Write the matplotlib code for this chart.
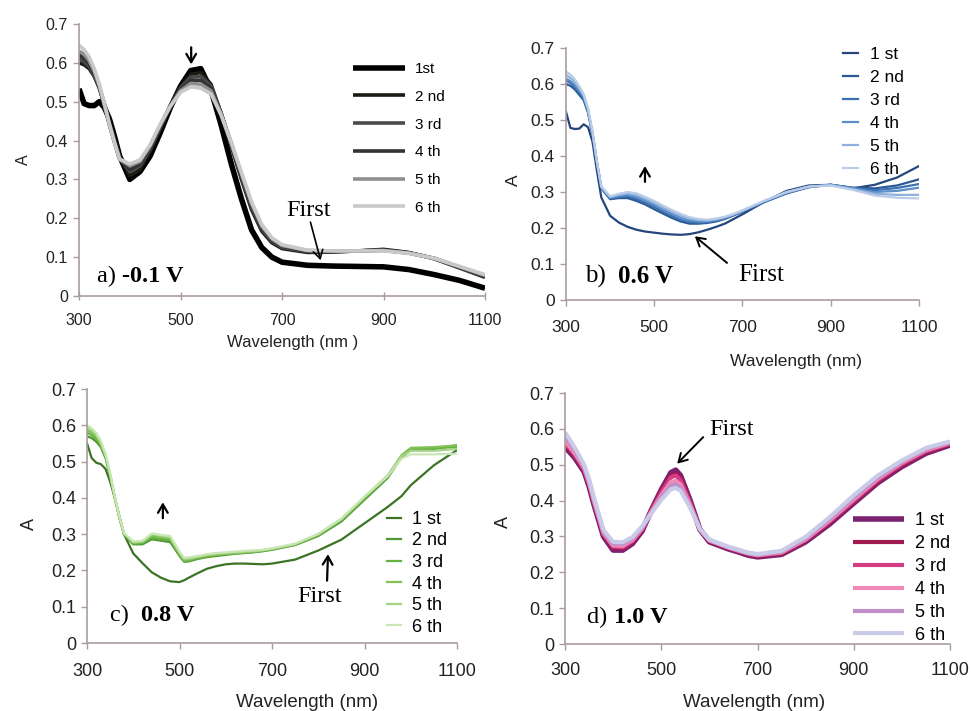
import matplotlib
matplotlib.use("Agg")
import matplotlib.pyplot as plt

# ---------------- data ----------------
wl_a = [300, 310, 320, 330, 340, 350, 360, 370, 380, 400, 420, 440, 460, 480, 500, 520, 540,
        560, 580, 600, 620, 640, 660, 680, 700, 750, 800, 850, 900, 950, 1000, 1050, 1100]
a_1st = [.533, .495, .490, .490, .500, .485, .455, .410, .360, .300, .320, .360, .420, .485, .540, .580, .585,
         .530, .440, .340, .250, .170, .125, .100, .087, .079, .077, .076, .075, .068, .055, .040, .020]
a_2nd = [.600, .595, .585, .565, .535, .495, .450, .405, .360, .310, .325, .372, .430, .488, .538, .570, .575,
         .545, .470, .385, .300, .222, .167, .137, .122, .112, .113, .116, .120, .112, .096, .072, .048]
a_3rd = [.610, .603, .590, .567, .535, .490, .442, .398, .356, .320, .335, .378, .434, .489, .535, .563, .565,
         .540, .470, .388, .305, .228, .172, .141, .125, .114, .114, .116, .118, .111, .096, .073, .050]
a_4th = [.620, .612, .597, .572, .537, .490, .440, .395, .353, .325, .340, .382, .437, .490, .532, .555, .555,
         .535, .470, .392, .310, .233, .176, .144, .128, .116, .115, .116, .118, .111, .097, .074, .052]
a_5th = [.630, .622, .605, .578, .540, .492, .440, .394, .352, .335, .346, .386, .440, .489, .528, .547, .545,
         .528, .468, .394, .315, .238, .180, .147, .130, .117, .116, .116, .117, .110, .097, .075, .053]
a_6th = [.645, .634, .615, .585, .545, .495, .442, .395, .352, .340, .350, .389, .442, .488, .524, .538, .535,
         .520, .465, .395, .318, .242, .184, .150, .132, .118, .116, .116, .116, .110, .097, .076, .055]

wl_b = [300, 310, 320, 330, 340, 350, 360, 370, 380, 400, 420, 440, 460, 480, 500, 520, 540,
        560, 580, 600, 620, 640, 660, 680, 700, 750, 800, 850, 900, 950, 1000, 1050, 1100]
b_1st = [.523, .478, .475, .476, .488, .480, .440, .360, .285, .234, .215, .203, .195, .190, .187, .184, .182,
         .181, .183, .188, .195, .203, .212, .225, .238, .273, .303, .318, .320, .310, .320, .340, .372]
b_2nd = [.600, .595, .585, .570, .555, .520, .460, .380, .310, .280, .283, .283, .275, .265, .252, .240, .228,
         .218, .212, .212, .214, .218, .225, .235, .245, .272, .296, .313, .320, .312, .310, .318, .335]
b_3rd = [.610, .603, .592, .577, .560, .523, .462, .382, .312, .282, .286, .287, .280, .270, .258, .245, .233,
         .222, .216, .215, .216, .220, .227, .236, .246, .273, .297, .314, .320, .311, .305, .311, .322]
b_4th = [.615, .608, .597, .582, .564, .526, .464, .383, .313, .284, .289, .292, .286, .276, .264, .251, .239,
         .228, .221, .218, .218, .222, .228, .237, .247, .274, .298, .314, .320, .310, .300, .303, .312]
b_5th = [.625, .617, .605, .588, .568, .529, .466, .384, .314, .286, .292, .296, .291, .281, .270, .257, .245,
         .234, .226, .222, .221, .224, .230, .238, .248, .275, .299, .315, .319, .308, .295, .292, .292]
b_6th = [.635, .626, .613, .594, .572, .532, .468, .385, .315, .288, .295, .300, .296, .286, .275, .262, .250,
         .239, .230, .225, .223, .226, .231, .239, .249, .276, .300, .315, .318, .306, .290, .284, .282]

wl_c = [300, 310, 320, 330, 340, 350, 360, 370, 380, 400, 420, 440, 460, 480, 500, 510, 520, 540,
        560, 580, 600, 620, 640, 660, 680, 700, 750, 800, 850, 900, 950, 980, 1000, 1050, 1100]
c_1st = [.551, .510, .497, .493, .480, .445, .400, .350, .300, .247, .220, .195, .180, .170, .168, .173, .180, .193,
         .205, .212, .217, .219, .219, .218, .217, .219, .230, .255, .285, .330, .375, .405, .435, .490, .532]
c_2nd = [.570, .565, .555, .540, .510, .460, .400, .345, .300, .272, .272, .286, .282, .278, .240, .224, .225, .232,
         .237, .240, .243, .246, .248, .250, .253, .257, .270, .295, .335, .395, .455, .512, .532, .535, .545]
c_3rd = [.580, .573, .562, .545, .513, .462, .401, .346, .300, .274, .275, .291, .287, .283, .243, .226, .227, .234,
         .239, .242, .245, .247, .249, .251, .254, .258, .271, .297, .338, .398, .458, .515, .535, .537, .540]
c_4th = [.588, .580, .568, .549, .516, .464, .402, .347, .301, .276, .278, .296, .292, .288, .246, .229, .230, .236,
         .241, .244, .246, .248, .250, .252, .255, .259, .272, .299, .340, .401, .461, .518, .538, .540, .545]
c_5th = [.595, .587, .574, .553, .519, .466, .403, .348, .302, .278, .280, .300, .296, .292, .249, .232, .233, .238,
         .243, .246, .248, .250, .252, .254, .256, .260, .273, .300, .342, .403, .462, .515, .530, .530, .535]
c_6th = [.600, .592, .579, .557, .522, .468, .404, .349, .303, .280, .282, .302, .298, .295, .252, .235, .236, .240,
         .245, .248, .250, .252, .254, .255, .257, .261, .274, .301, .343, .404, .460, .508, .520, .520, .522]

wl_d = [300, 310, 320, 330, 340, 350, 360, 370, 380, 400, 420, 440, 460, 480, 500, 520, 530, 540,
        560, 580, 600, 620, 640, 660, 680, 700, 750, 800, 850, 900, 950, 1000, 1050, 1100]
d_1st = [.550, .535, .520, .500, .480, .440, .390, .345, .300, .262, .262, .280, .315, .375, .430, .478, .485, .470,
         .400, .320, .285, .275, .265, .257, .248, .243, .250, .285, .335, .393, .450, .495, .532, .555]
d_2nd = [.555, .540, .524, .504, .483, .443, .393, .348, .303, .268, .267, .284, .318, .374, .425, .470, .475, .462,
         .396, .320, .287, .277, .267, .259, .250, .245, .252, .288, .339, .397, .454, .499, .535, .557]
d_3rd = [.560, .545, .528, .508, .486, .446, .396, .351, .306, .272, .270, .287, .320, .373, .422, .465, .470, .457,
         .393, .321, .288, .278, .268, .260, .252, .247, .254, .290, .342, .400, .457, .502, .538, .559]
d_4th = [.565, .550, .533, .512, .490, .450, .400, .355, .310, .275, .274, .290, .322, .370, .414, .452, .455, .445,
         .388, .321, .289, .279, .269, .261, .253, .248, .256, .292, .345, .404, .461, .506, .541, .561]
d_5th = [.580, .562, .542, .519, .495, .455, .405, .359, .314, .280, .279, .294, .325, .368, .408, .442, .445, .436,
         .384, .321, .290, .280, .270, .262, .254, .249, .258, .295, .349, .409, .465, .509, .544, .563]
d_6th = [.590, .570, .548, .524, .499, .459, .409, .363, .318, .285, .284, .298, .328, .366, .402, .432, .435, .428,
         .380, .321, .291, .281, .271, .263, .255, .251, .260, .299, .354, .415, .470, .512, .547, .565]

labels_a = ["1st", "2 nd", "3 rd", "4 th", "5 th", "6 th"]
labels_bcd = ["1 st", "2 nd", "3 rd", "4 th", "5 th", "6 th"]
xticks = [300, 500, 700, 900, 1100]
yticks = [0, 0.1, 0.2, 0.3, 0.4, 0.5, 0.6, 0.7]
ytick_labels = ["0", "0.1", "0.2", "0.3", "0.4", "0.5", "0.6", "0.7"]

# ---------------- styling ----------------
plt.rcParams["font.family"] = ["Liberation Sans", "DejaVu Sans"]
SERIF = ["Liberation Serif", "DejaVu Serif"]
SPINE = "#aa9c9c"

fig = plt.figure(figsize=(9.71, 7.11), dpi=100)
fig.patch.set_facecolor("white")


def setup(ax, fs, xfs, xlabel, xlab_pos, ylab_pos, xdir="out", xpad=4):
    ax.set_xlim(300, 1100)
    ax.set_ylim(0, 0.7)
    ax.set_xticks(xticks)
    ax.set_xticklabels([str(t) for t in xticks])
    ax.set_yticks(yticks)
    ax.set_yticklabels(ytick_labels)
    for s in ["top", "right"]:
        ax.spines[s].set_visible(False)
    for s in ["left", "bottom"]:
        ax.spines[s].set_color(SPINE)
        ax.spines[s].set_linewidth(1.2)
    ax.tick_params(axis="both", length=4, width=1.0, color=SPINE,
                   labelsize=fs, labelcolor="#222222")
    ax.tick_params(axis="y", direction="out", pad=4)
    ax.tick_params(axis="x", direction=xdir, pad=xpad, length=6 if xdir == "inout" else 4)
    ax.set_xlabel(xlabel, fontsize=xfs, color="#222222")
    ax.xaxis.set_label_coords(*xlab_pos)
    ax.set_ylabel("A", fontsize=fs, color="#222222")
    ax.yaxis.set_label_coords(*ylab_pos)


def panel_label(ax, x, y, pre, bold, fs):
    t = ax.text(x, y, pre, fontsize=fs, family=SERIF, va="center", ha="left")
    ax.annotate(bold, xy=(1, 0.5), xycoords=t, va="center", ha="left",
                fontsize=fs, family=SERIF, fontweight="bold")


def arrow(ax, start, end, lw=1.6):
    ax.annotate("", xy=end, xytext=start,
                arrowprops=dict(arrowstyle="->,head_length=0.6,head_width=0.35", color="black", lw=lw,
                                shrinkA=0, shrinkB=0))


# ---------------- panel a ----------------
ax = fig.add_axes([0.0814, 0.5837, 0.4181, 0.3826])
cols_a = ["#000000", "#1c1c12", "#4a4a4a", "#333333", "#8e8e8e", "#c9c9c9"]
lws_a = [4.0, 2.6, 2.6, 2.6, 2.6, 2.6]
for ys, c, lw, lab in zip([a_1st, a_2nd, a_3rd, a_4th, a_5th, a_6th], cols_a, lws_a, labels_a):
    ax.plot(wl_a, ys, color=c, lw=lw, label=lab, solid_capstyle="butt")
setup(ax, 11.5, 12, "Wavelength (nm )", (0.525, -0.145), (-0.118, 0.5), xdir="inout", xpad=9.5)
ax.legend(loc="upper left", bbox_to_anchor=(0.675, 0.86), frameon=False, borderpad=0, borderaxespad=0,
          fontsize=11, handlelength=3.4, handletextpad=0.65, labelspacing=0.9)
panel_label(ax, 335, 0.049, "a) ", "-0.1 V", 17.5)
arrow(ax, (521, 0.640), (521, 0.596))
ax.text(753, 0.221, "First", fontsize=17.5, family=SERIF, ha="center", va="center")
arrow(ax, (756, 0.190), (776, 0.092), lw=1.2)

# ---------------- panel b ----------------
ax = fig.add_axes([0.5829, 0.5781, 0.3635, 0.3544])
cols_b = ["#25467c", "#2c5896", "#3a6fb0", "#5b8dc8", "#8eb0da", "#b9cde8"]
for ys, c, lab in zip([b_1st, b_2nd, b_3rd, b_4th, b_5th, b_6th], cols_b, labels_bcd):
    ax.plot(wl_b, ys, color=c, lw=1.6, label=lab)
setup(ax, 12.5, 12.5, "Wavelength (nm)", (0.652, -0.215), (-0.127, 0.476), xpad=10.5)
ax.legend(loc="upper left", bbox_to_anchor=(0.784, 1.003), frameon=False, borderpad=0, borderaxespad=0,
          fontsize=12.5, handlelength=0.9, handletextpad=0.7, labelspacing=0.45)
panel_label(ax, 343, 0.064, "b)  ", "0.6 V", 18)
ax.text(742, 0.069, "First", fontsize=18, family=SERIF, ha="center", va="center")
arrow(ax, (665, 0.103), (592, 0.177), lw=1.4)
arrow(ax, (479, 0.328), (479, 0.372))

# ---------------- panel c ----------------
ax = fig.add_axes([0.0896, 0.0956, 0.3811, 0.3572])
cols_c = ["#3c7426", "#4f9733", "#67b042", "#80c255", "#a3d385", "#cae6b5"]
for ys, c, lab in zip([c_1st, c_2nd, c_3rd, c_4th, c_5th, c_6th], cols_c, labels_bcd):
    ax.plot(wl_c, ys, color=c, lw=1.6, label=lab)
setup(ax, 13, 13.5, "Wavelength (nm)", (0.595, -0.2), (-0.133, 0.47), xpad=10.5)
ax.legend(loc="upper left", bbox_to_anchor=(0.811, 0.52), frameon=False, borderpad=0, borderaxespad=0,
          fontsize=13, handlelength=0.75, handletextpad=0.65, labelspacing=0.25)
panel_label(ax, 350, 0.077, "c)  ", "0.8 V", 17.5)
ax.text(802, 0.127, "First", fontsize=17.5, family=SERIF, ha="center", va="center")
arrow(ax, (819, 0.172), (821, 0.245))
arrow(ax, (464, 0.344), (464, 0.388))

# ---------------- panel d ----------------
ax = fig.add_axes([0.5819, 0.0942, 0.3965, 0.3530])
cols_d = ["#7b2272", "#a11a50", "#d43c84", "#f28ab8", "#bf90c8", "#c9cbe8"]
lws_d = [4.0, 3.0, 3.0, 3.0, 3.0, 3.0]
for ys, c, lw, lab in zip([d_1st, d_2nd, d_3rd, d_4th, d_5th, d_6th], cols_d, lws_d, labels_bcd):
    ax.plot(wl_d, ys, color=c, lw=lw, label=lab, solid_capstyle="butt")
setup(ax, 13, 13.5, "Wavelength (nm)", (0.49, -0.2), (-0.139, 0.486), xpad=9)
ax.legend(loc="upper left", bbox_to_anchor=(0.748, 0.526), frameon=False, borderpad=0, borderaxespad=0,
          fontsize=13, handlelength=2.8, handletextpad=0.65, labelspacing=0.33)
panel_label(ax, 346, 0.073, "d) ", "1.0 V", 17.5)
ax.text(647, 0.597, "First", fontsize=17.5, family=SERIF, ha="center", va="center")
arrow(ax, (587, 0.577), (533, 0.503), lw=1.4)

fig.savefig("out.png", dpi=100, facecolor="white")
